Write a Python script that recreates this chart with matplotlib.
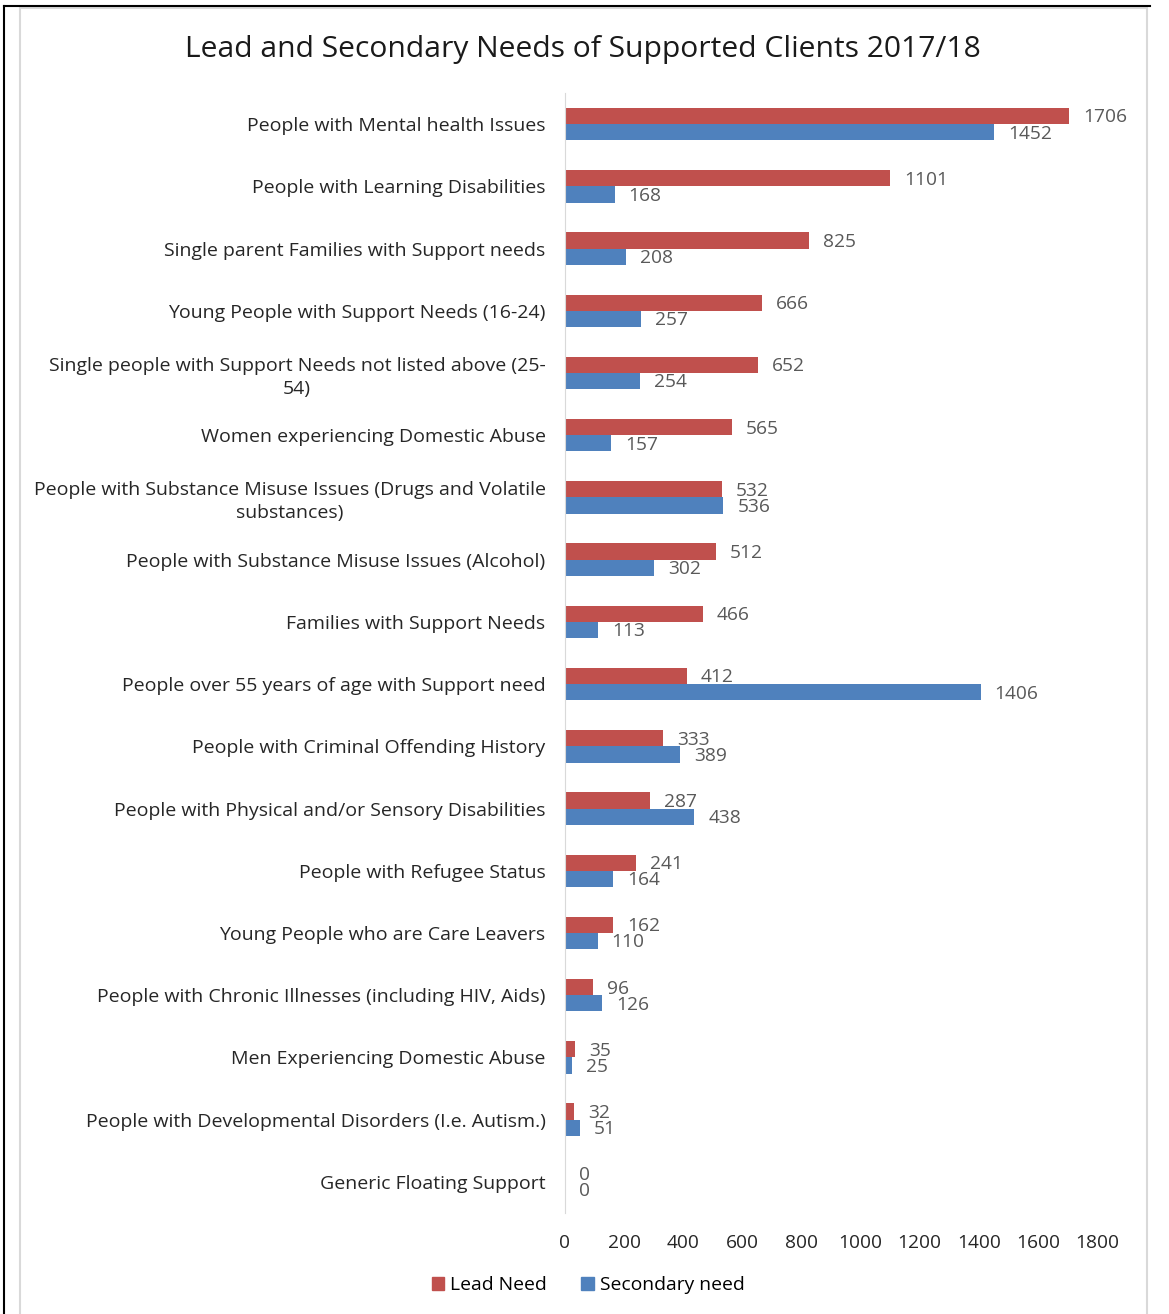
import numpy as np
import matplotlib
matplotlib.use("Agg")
import matplotlib.pyplot as plt
from matplotlib.lines import Line2D
from matplotlib.patches import Rectangle, Patch

plt.rcParams['font.family'] = ['Open Sans', 'DejaVu Sans']

categories = [
    "People with Mental health Issues",
    "People with Learning Disabilities",
    "Single parent Families with Support needs",
    "Young People with Support Needs (16-24)",
    "Single people with Support Needs not listed above (25-\n54)",
    "Women experiencing Domestic Abuse",
    "People with Substance Misuse Issues (Drugs and Volatile\nsubstances)",
    "People with Substance Misuse Issues (Alcohol)",
    "Families with Support Needs",
    "People over 55 years of age with Support need",
    "People with Criminal Offending History",
    "People with Physical and/or Sensory Disabilities",
    "People with Refugee Status",
    "Young People who are Care Leavers",
    "People with Chronic Illnesses (including HIV, Aids)",
    "Men Experiencing Domestic Abuse",
    "People with Developmental Disorders (I.e. Autism.)",
    "Generic Floating Support",
]
lead = [1706, 1101, 825, 666, 652, 565, 532, 512, 466, 412, 333, 287, 241, 162, 96, 35, 32, 0]
secondary = [1452, 168, 208, 257, 254, 157, 536, 302, 113, 1406, 389, 438, 164, 110, 126, 25, 51, 0]
xticks = [0, 200, 400, 600, 800, 1000, 1200, 1400, 1600, 1800]

RED = "#C0504D"
BLUE = "#4F81BD"
GREY = "#595959"

fig = plt.figure(figsize=(11.69, 13.14), dpi=100)
ax = fig.add_axes([565/1169, 1-1213/1314, 532/1169, 1120/1314])

y = np.arange(len(categories))
h = 0.26
ax.barh(y - h/2, lead, h, color=RED, label="Lead Need")
ax.barh(y + h/2, secondary, h, color=BLUE, label="Secondary need")

# data labels (lead above, secondary below)
for yi, v in zip(y, lead):
    ax.annotate(str(v), (v, yi - h/2), xytext=(10, -1), textcoords="offset points",
                va="center", ha="left", fontsize=13.8, color=GREY)
for yi, v in zip(y, secondary):
    ax.annotate(str(v), (v, yi + h/2), xytext=(10, -1), textcoords="offset points",
                va="center", ha="left", fontsize=13.8, color=GREY)

ax.set_ylim(len(categories) - 0.5, -0.5)
ax.set_xlim(0, 1800)
ax.set_yticks(y)
ax.set_yticklabels(categories, fontsize=14, color="#262626", multialignment="center",
                   linespacing=1.35)
ax.set_xticks(xticks)
ax.set_xticklabels([str(t) for t in xticks], fontsize=13.8, color="#262626")
ax.tick_params(length=0)
ax.tick_params(axis="y", pad=14)
ax.tick_params(axis="x", pad=15)
for s in ["top", "right", "bottom"]:
    ax.spines[s].set_visible(False)
ax.spines["left"].set_color("#D9D9D9")

fig.text(583/1169, 1-50/1314, "Lead and Secondary Needs of Supported Clients 2017/18",
         ha="center", va="center", fontsize=21.6, color="#1a1a1a")

handles = [Patch(color=RED, label="Lead Need"), Patch(color=BLUE, label="Secondary need")]
fig.legend(handles=handles, loc="center", bbox_to_anchor=(588/1169, 1-1285/1314), ncol=2,
           frameon=False, fontsize=13.9, handlelength=0.65, handleheight=0.65,
           handletextpad=0.3, columnspacing=1.8)

# outer frame lines
fig.add_artist(Line2D([4/1169, 1150/1169], [1-6/1314, 1-6/1314], color="black", lw=1.5,
                      transform=fig.transFigure))
fig.add_artist(Line2D([4/1169, 4/1169], [0, 1-6/1314], color="black", lw=1.5,
                      transform=fig.transFigure))
fig.add_artist(Rectangle((20/1169, -0.01), (1147-20)/1169, 1-8/1314 + 0.01, fill=False,
                         edgecolor="#D9D9D9", lw=1.5, transform=fig.transFigure))

fig.savefig("out.png", dpi=100)
